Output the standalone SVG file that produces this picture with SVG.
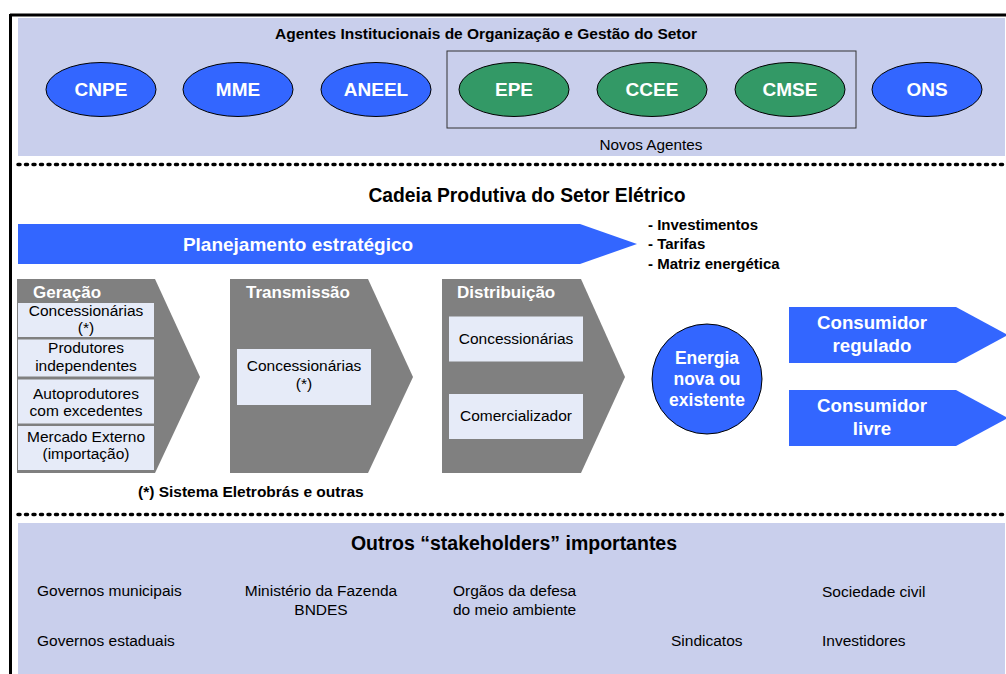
<svg xmlns="http://www.w3.org/2000/svg" width="1006" height="674" viewBox="0 0 1006 674">
<style>
text{font-family:"Liberation Sans",Arial,sans-serif;}
.b{font-weight:bold;}
.w{fill:#fff;}
.k{fill:#000;}
.c{text-anchor:middle;}
.band{fill:#C9CFEC;}
.blue{fill:#3366FF;stroke:#000;stroke-width:1;}
.green{fill:#339966;stroke:#000;stroke-width:1;}
.ell{font-size:19px;font-weight:bold;fill:#fff;text-anchor:middle;}
.chev{fill:#808080;}
.box{fill:#E6EBF8;}
.bt{font-size:15.5px;fill:#000;text-anchor:middle;}
.st{font-size:15.5px;fill:#000;}
.dots{stroke:#000;stroke-width:3.5;stroke-linecap:round;stroke-dasharray:2 5.5;fill:none;}
.arrow{fill:#3366FF;}
</style>
<rect width="1006" height="674" fill="#fff"/>
<g id="frame">
<rect class="band" x="18" y="18" width="987" height="138"/>
<rect class="band" x="18" y="523" width="987" height="151"/>
<line x1="10" y1="15" x2="1006" y2="15" stroke="#000" stroke-width="3"/>
<line x1="10.5" y1="14" x2="10.5" y2="674" stroke="#000" stroke-width="3"/>
<line class="dots" x1="18" y1="164.5" x2="1006" y2="164.5"/>
<line class="dots" x1="18" y1="514.5" x2="1006" y2="514.5"/>
</g>
<g id="agentes">
<text class="b k c" x="486" y="39" font-size="15.5">Agentes Institucionais de Organização e Gestão do Setor</text>
<rect x="447" y="51" width="409" height="77" fill="none" stroke="#333" stroke-width="1"/>
<text class="k c" x="651" y="150" font-size="15.3">Novos Agentes</text>
</g>
<g id="node-cnpe"><ellipse class="blue" cx="101" cy="89.5" rx="55" ry="27"/><text class="ell" x="101" y="96">CNPE</text></g>
<g id="node-mme"><ellipse class="blue" cx="238" cy="89.5" rx="55" ry="27"/><text class="ell" x="238" y="96">MME</text></g>
<g id="node-aneel"><ellipse class="blue" cx="376" cy="89.5" rx="55" ry="27"/><text class="ell" x="376" y="96">ANEEL</text></g>
<g id="node-epe"><ellipse class="green" cx="514" cy="89.5" rx="55" ry="27"/><text class="ell" x="514" y="96">EPE</text></g>
<g id="node-ccee"><ellipse class="green" cx="652" cy="89.5" rx="55" ry="27"/><text class="ell" x="652" y="96">CCEE</text></g>
<g id="node-cmse"><ellipse class="green" cx="790" cy="89.5" rx="55" ry="27"/><text class="ell" x="790" y="96">CMSE</text></g>
<g id="node-ons"><ellipse class="blue" cx="927" cy="89.5" rx="55" ry="27"/><text class="ell" x="927" y="96">ONS</text></g>

<g id="cadeia-title">
<text class="b k c" x="527" y="201.5" font-size="19.3">Cadeia Produtiva do Setor Elétrico</text>
</g>
<g id="node-planejamento">
<polygon class="arrow" points="18,224 580,224 637,244 580,264 18,264"/>
<text class="b w c" x="298" y="250.5" font-size="19">Planejamento estratégico</text>
</g>
<g id="planejamento-itens">
<text class="b k" x="648" y="229.5" font-size="15">- Investimentos</text>
<text class="b k" x="648" y="249" font-size="15">- Tarifas</text>
<text class="b k" x="648" y="268.5" font-size="15">- Matriz energética</text>
</g>

<g id="node-geracao">
<polygon class="chev" points="17,279 155,279 200,377 155,473 17,473"/>
<text class="b w" x="33" y="298" font-size="17">Geração</text>
<rect class="box" x="18" y="303" width="136" height="34"/>
<rect class="box" x="18" y="339.5" width="136" height="37"/>
<rect class="box" x="18" y="379.5" width="136" height="44"/>
<rect class="box" x="18" y="426" width="136" height="44"/>
<text class="bt" x="86" y="316">Concessionárias</text>
<text class="bt" x="86" y="333">(*)</text>
<text class="bt" x="86" y="353">Produtores</text>
<text class="bt" x="86" y="370.5">independentes</text>
<text class="bt" x="86" y="398.5">Autoprodutores</text>
<text class="bt" x="86" y="416">com excedentes</text>
<text class="bt" x="86" y="442">Mercado Externo</text>
<text class="bt" x="86" y="459">(importação)</text>
</g>
<g id="node-transmissao">
<polygon class="chev" points="230,279 368,279 413,377 368,473 230,473"/>
<text class="b w" x="246" y="298" font-size="17">Transmissão</text>
<rect class="box" x="237" y="349" width="134" height="56"/>
<text class="bt" x="304" y="371">Concessionárias</text>
<text class="bt" x="304" y="389">(*)</text>
</g>
<g id="node-distribuicao">
<polygon class="chev" points="442,279 581,279 625,377 581,473 442,473"/>
<text class="b w" x="457" y="298" font-size="17">Distribuição</text>
<rect class="box" x="449" y="316.5" width="134" height="45"/>
<rect class="box" x="449" y="394" width="134" height="45"/>
<text class="bt" x="516" y="344">Concessionárias</text>
<text class="bt" x="516" y="421">Comercializador</text>
</g>
<g id="node-energia">
<circle class="blue" cx="707" cy="379" r="55"/>
<text class="b w c" x="707" y="364" font-size="17.5">Energia</text>
<text class="b w c" x="707" y="385" font-size="17.5">nova ou</text>
<text class="b w c" x="707" y="406" font-size="17.5">existente</text>
</g>
<g id="node-regulado">
<polygon class="arrow" points="789,307 956,307 1008,335 956,363 789,363"/>
<text class="b w c" x="872" y="329" font-size="18.7">Consumidor</text>
<text class="b w c" x="872" y="352" font-size="18.7">regulado</text>
</g>
<g id="node-livre">
<polygon class="arrow" points="789,390 956,390 1008,418 956,446 789,446"/>
<text class="b w c" x="872" y="412" font-size="18.7">Consumidor</text>
<text class="b w c" x="872" y="435" font-size="18.7">livre</text>
</g>
<g id="nota">
<text class="b k" x="138" y="497" font-size="15.5">(*) Sistema Eletrobrás e outras</text>
</g>

<g id="stakeholders">
<text class="b k c" x="514" y="550" font-size="19.5">Outros “stakeholders” importantes</text>
<text class="st" x="37" y="596">Governos municipais</text>
<text class="st" x="321" y="596" text-anchor="middle">Ministério da Fazenda</text>
<text class="st" x="321" y="615" text-anchor="middle">BNDES</text>
<text class="st" x="453" y="596">Orgãos da defesa</text>
<text class="st" x="453" y="615">do meio ambiente</text>
<text class="st" x="822" y="597">Sociedade civil</text>
<text class="st" x="37" y="646">Governos estaduais</text>
<text class="st" x="671" y="646">Sindicatos</text>
<text class="st" x="822" y="646">Investidores</text>
</g>
<g id="connectors"/>
</svg>
